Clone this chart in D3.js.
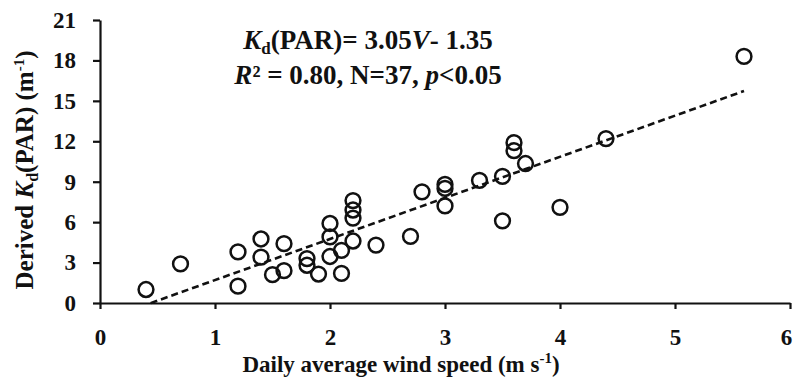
<!DOCTYPE html>
<html>
<head>
<meta charset="utf-8">
<script src="https://cdn.jsdelivr.net/npm/d3@7"></script>
<style>
  body { margin: 0; background: #fff; }
  text { font-family: "Liberation Serif", "Times New Roman", serif; font-weight: bold; fill: #111; }
</style>
</head>
<body>
<div id="chart"></div>
<script>
// wind speed (m s-1) and derived Kd(PAR) (m-1)
const windSpeed = [0.4, 0.7, 1.2, 1.2, 1.4, 1.4, 1.5, 1.6, 1.6, 1.8, 1.8, 1.9,
  2.0, 2.0, 2.0, 2.1, 2.1, 2.2, 2.2, 2.2, 2.2, 2.4, 2.7, 2.8, 3.0, 3.0, 3.0,
  3.3, 3.5, 3.5, 3.6, 3.6, 3.7, 4.0, 4.4, 5.6];
const kdPar = [1.0, 2.9, 3.8, 1.25, 4.75, 3.4, 2.1, 2.4, 4.4, 3.3, 2.8, 2.15,
  5.9, 4.9, 3.45, 2.2, 3.9, 7.6, 6.9, 6.3, 4.6, 4.3, 4.95, 8.25, 8.8, 8.5, 7.2,
  9.1, 9.4, 6.1, 11.9, 11.3, 10.35, 7.1, 12.2, 18.3];
const xTicks = [0, 1, 2, 3, 4, 5, 6];
const yTicks = [0, 3, 6, 9, 12, 15, 18, 21];
const slope = 3.05, intercept = -1.35;
const fitRange = [0.44, 5.6];

const width = 796, height = 379;
const margin = {top: 20, right: 6, bottom: 76, left: 100};
const w = width - margin.left - margin.right;
const h = height - margin.top - margin.bottom;

const svg = d3.select('#chart').append('svg')
    .attr('width', width)
    .attr('height', height);

const chart = svg.append('g')
    .attr('transform', `translate(${margin.left},${margin.top})`);

const x = d3.scaleLinear().domain([0, 6]).range([0, w]);
const y = d3.scaleLinear().domain([0, 21]).range([h, 0]);

// axes
const xAxisG = chart.append('g')
    .attr('transform', `translate(0,${h})`)
    .call(d3.axisBottom(x).tickValues(xTicks).tickFormat(d3.format('d'))
        .tickSize(6).tickSizeOuter(0).tickPadding(20));
const yAxisG = chart.append('g')
    .call(d3.axisLeft(y).tickValues(yTicks).tickFormat(d3.format('d'))
        .tickSize(7).tickSizeOuter(0).tickPadding(17));

[xAxisG, yAxisG].forEach(g => {
  g.selectAll('path, line').attr('stroke', '#111').attr('stroke-width', 2.2);
  g.selectAll('text')
      .style('font-family', '"Liberation Serif", serif')
      .style('font-weight', 'bold')
      .style('font-size', '23px')
      .attr('fill', '#111');
});
// keep the last x label inside the window
xAxisG.selectAll('.tick text').filter(d => d === 6).attr('dx', -4);

// regression line
const fitLine = d3.line().x(d => x(d)).y(d => y(slope * d + intercept));
chart.append('path')
    .datum(fitRange)
    .attr('d', fitLine)
    .attr('fill', 'none')
    .attr('stroke', '#111')
    .attr('stroke-width', 2.6)
    .attr('stroke-dasharray', '7,4');

// points
chart.selectAll('.point')
    .data(windSpeed.map((v, i) => ({v, k: kdPar[i]})))
    .join('circle')
    .attr('class', 'point')
    .attr('cx', d => x(d.v))
    .attr('cy', d => y(d.k))
    .attr('r', 7.4)
    .attr('fill', 'none')
    .attr('stroke', '#111')
    .attr('stroke-width', 2.5);

// equation annotation
const eq1 = svg.append('text').attr('x', 368).attr('y', 49)
    .attr('text-anchor', 'middle').style('font-size', '27px');
eq1.append('tspan').style('font-style', 'italic').text('K');
eq1.append('tspan').attr('dy', 5).style('font-size', '17px').text('d');
eq1.append('tspan').attr('dy', -5).text('(PAR)= 3.05');
eq1.append('tspan').style('font-style', 'italic').text('V');
eq1.append('tspan').text('- 1.35');

const eq2 = svg.append('text').attr('x', 368).attr('y', 84)
    .attr('text-anchor', 'middle').style('font-size', '27px');
eq2.append('tspan').style('font-style', 'italic').text('R');
eq2.append('tspan').text('² = 0.80, N=37, ');
eq2.append('tspan').style('font-style', 'italic').text('p');
eq2.append('tspan').text('<0.05');

// x axis title
const xt = svg.append('text').attr('x', 401).attr('y', 372)
    .attr('text-anchor', 'middle').style('font-size', '23px');
xt.append('tspan').text('Daily average wind speed (m s');
xt.append('tspan').attr('dy', -9).style('font-size', '15px').text('-1');
xt.append('tspan').attr('dy', 9).text(')');

// y axis title
const yt = svg.append('text')
    .attr('transform', `translate(33,${margin.top + 150}) rotate(-90)`)
    .attr('text-anchor', 'middle').style('font-size', '25px');
yt.append('tspan').text('Derived ');
yt.append('tspan').style('font-style', 'italic').text('K');
yt.append('tspan').attr('dy', 5).style('font-size', '16px').text('d');
yt.append('tspan').attr('dy', -5).text('(PAR) (m');
yt.append('tspan').attr('dy', -9).style('font-size', '15px').text('-1');
yt.append('tspan').attr('dy', 9).text(')');
</script>
</body>
</html>
